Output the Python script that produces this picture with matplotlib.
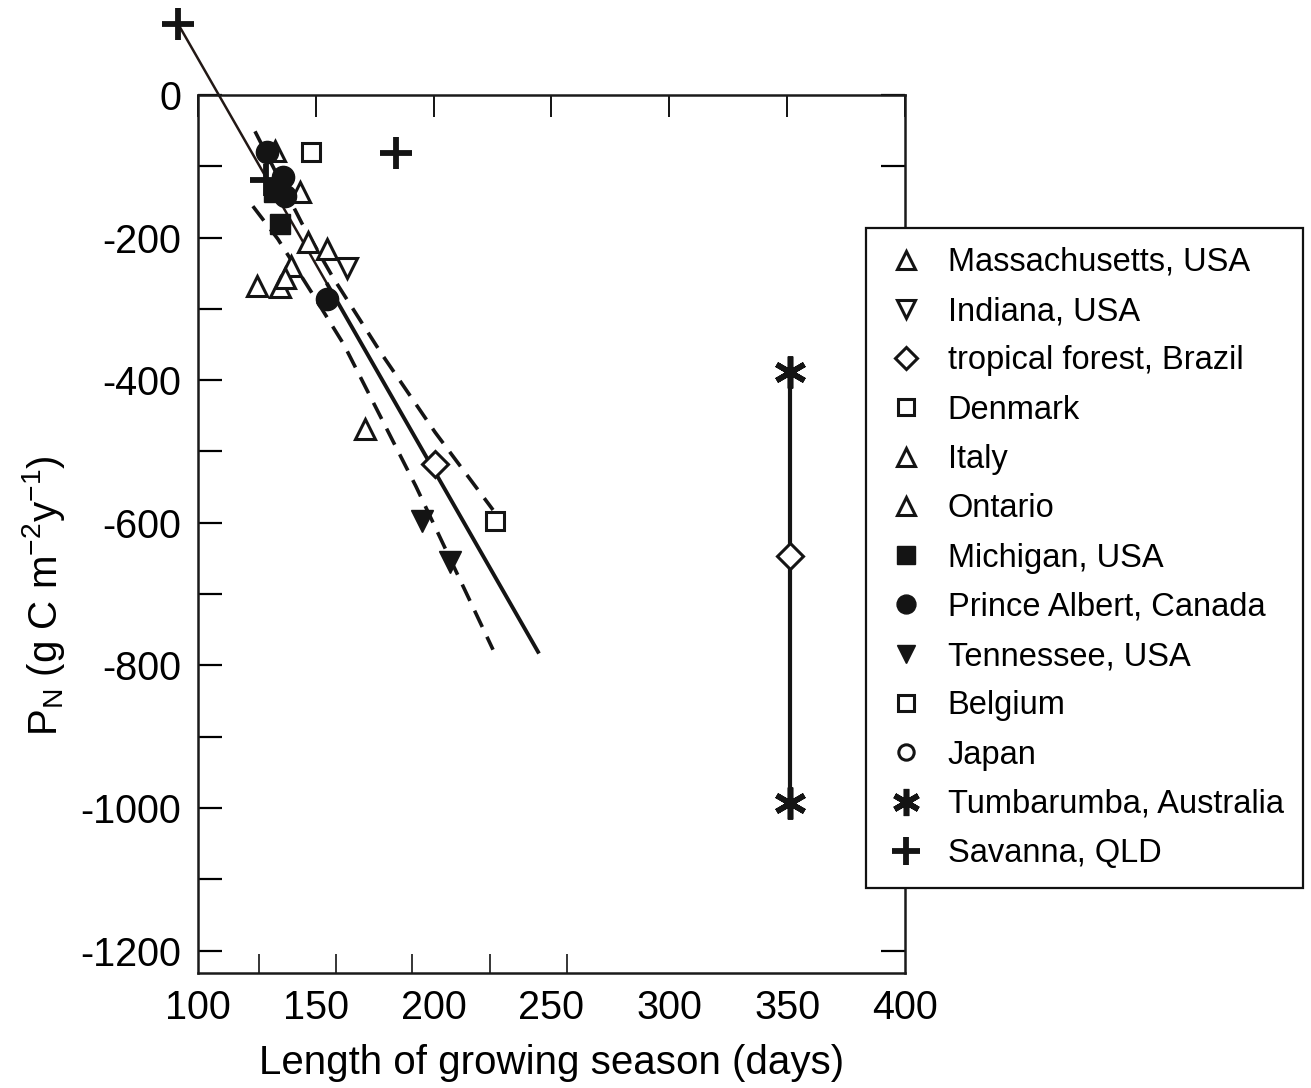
import numpy as np
import matplotlib.pyplot as plt
from matplotlib.ticker import FixedLocator, NullFormatter

plt.rcParams['font.family'] = ['Liberation Sans', 'DejaVu Sans']
plt.rcParams['mathtext.default'] = 'regular'
plt.rcParams['axes.unicode_minus'] = False

# data (days, g C m-2 y-1)
mass_x = [132.7, 143.3, 146.7, 154.7]
mass_y = [-79, -136, -206, -216]
indiana_x = [163.2]
indiana_y = [-242]
brazil_x = [200.6, 351.2]
brazil_y = [-518, -647]
denmark_x = [148.0]
denmark_y = [-80]
italy_x = [125.0, 134.8]
italy_y = [-268, -270]
ontario_x = [139.5, 136.9, 170.9]
ontario_y = [-240, -256, -469]
michigan_x = [132.2, 134.8]
michigan_y = [-136, -181]
albert_x = [129.3, 136.0, 136.9, 154.7]
albert_y = [-80, -115, -142, -286]
tennessee_x = [195.0, 207.0]
tennessee_y = [-597, -655]
belgium_x = [226.0]
belgium_y = [-598]
japan_x = []
japan_y = []
tumba_x = [351.2, 351.2]
tumba_y = [-388, -993]
savanna_x = [91.5, 128.9, 184.0]
savanna_y = [100, -119, -81]

# fitted lines
thin_x = [91.5, 155.0]
thin_y = [100, -266]
fit_x = [155.0, 244.3]
fit_y = [-266, -781]
upper_x = [124.2, 144.1, 157.3, 178.1, 200.6, 225.2]
upper_y = [-51, -180, -256, -364, -473, -582]
lower_x = [123.3, 133.9, 148.8, 161.9, 192.5, 225.2]
lower_y = [-156, -202, -280, -350, -549, -778]

x_labels = [100, 150, 200, 250, 300, 350, 400]
y_labels = [0, -200, -400, -600, -800, -1000, -1200]
y_minor = [-100, -300, -500, -700, -900, -1100]
bottom_marks = [126, 158.5, 191, 224, 256.5]

fig = plt.figure(figsize=(13.11, 10.88), dpi=100)
ax = fig.add_axes([0.151, 0.106, 0.5393, 0.8067])

k = '#141414'
ax.plot(thin_x, thin_y, '-', color='#221815', lw=1.8, clip_on=False, zorder=2)
ax.plot(fit_x, fit_y, '-', color=k, lw=2.8, zorder=2)
ax.plot(upper_x, upper_y, '--', color=k, lw=2.6, dashes=(5, 3), zorder=2)
ax.plot(lower_x, lower_y, '--', color=k, lw=2.6, dashes=(5, 3), zorder=2)

opn = dict(ls='none', color=k, mfc='white', mew=2.2, zorder=4)
fil = dict(ls='none', color=k, mew=1, zorder=4)

ax.plot(mass_x, mass_y, marker='^', ms=15, label='Massachusetts, USA', **opn)
ax.plot(indiana_x, indiana_y, marker='v', ms=15, label='Indiana, USA', **opn)
ax.plot(tumba_x, tumba_y, '-', color=k, lw=3, zorder=3)
ax.plot(brazil_x, brazil_y, marker='D', ms=13, label='tropical forest, Brazil', **opn)
ax.plot(denmark_x, denmark_y, marker='s', ms=13, label='Denmark', **opn)
ax.plot(italy_x, italy_y, marker='^', ms=15, label='Italy', **opn)
ax.plot(ontario_x, ontario_y, marker='^', ms=15, label='Ontario', **opn)
ax.plot(michigan_x, michigan_y, marker='s', ms=15, label='Michigan, USA', **fil)
ax.plot(albert_x, albert_y, marker='o', ms=16, label='Prince Albert, Canada', **fil)
ax.plot(tennessee_x, tennessee_y, marker='v', ms=16, label='Tennessee, USA', **fil)
ax.plot(belgium_x, belgium_y, marker='s', ms=13, label='Belgium', **opn)
ax.plot(japan_x, japan_y, marker='o', ms=13, label='Japan', **opn)
ax.plot(tumba_x, tumba_y, ls='none', marker=(6, 2, 0), ms=23, mew=4,
        color=k, label='Tumbarumba, Australia', zorder=4)
ax.plot(savanna_x, savanna_y, ls='none', marker='+', ms=23, mew=4.2,
        color=k, label='Savanna, QLD', clip_on=False, zorder=5)

ax.set_xlim(100, 400)
ax.set_ylim(-1231, 0)

ax.xaxis.set_major_locator(FixedLocator(x_labels))
ax.xaxis.set_minor_locator(FixedLocator(bottom_marks))
ax.xaxis.set_minor_formatter(NullFormatter())
ax.yaxis.set_major_locator(FixedLocator(y_labels))
ax.yaxis.set_minor_locator(FixedLocator(y_minor))

ax.tick_params(axis='x', which='major', direction='in', bottom=False, top=True,
               length=16, width=1.3, labelsize=28.5, pad=12)
ax.tick_params(axis='x', which='minor', direction='in', bottom=True, top=False,
               length=14, width=1.1)
ax.tick_params(axis='y', which='both', direction='in', left=True, right=True,
               length=17, width=1.6, labelsize=28.5, pad=12)
for s in ax.spines.values():
    s.set_linewidth(1.8)
    s.set_color('#1a1a1a')

ax.set_xlabel('Length of growing season (days)', fontsize=29, labelpad=12)
ax.set_ylabel('P$_\\mathregular{N}$ (g C m$^\\mathregular{-2}$y$^\\mathregular{-1}$)',
              fontsize=29)
ax.yaxis.set_label_coords(-0.185, 0.43)

leg = ax.legend(loc='upper left', bbox_to_anchor=(866 / 1311, 1 - 228 / 1088),
                bbox_transform=fig.transFigure, fontsize=23.5, frameon=True,
                fancybox=False, edgecolor='#111111', framealpha=1,
                handlelength=1.3, handletextpad=0.62, labelspacing=0.56,
                borderpad=0.58, borderaxespad=0, markerscale=0.85)
leg.get_frame().set_linewidth(1.6)
leg.set_zorder(10)

fig.savefig('out.png', dpi=100)
